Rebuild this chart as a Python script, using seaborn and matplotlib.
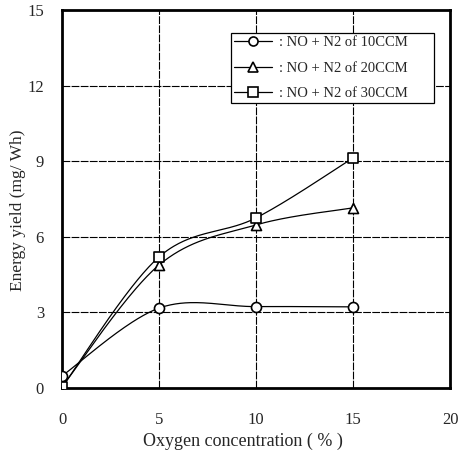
import numpy as np
import pandas as pd
import matplotlib
matplotlib.use("Agg")
import matplotlib.pyplot as plt
from matplotlib.lines import Line2D
import seaborn as sns

# Oxygen concentration (%) and energy yield (mg/Wh) for three NO + N2 flow rates
oxygen = [0, 5, 10, 15]
yield_10ccm = [0.48, 3.17, 3.23, 3.22]
yield_20ccm = [0.05, 4.88, 6.47, 7.15]
yield_30ccm = [0.03, 5.20, 6.75, 9.13]
series_labels = [": NO + N2 of 10CCM", ": NO + N2 of 20CCM", ": NO + N2 of 30CCM"]
series_markers = ["o", "^", "s"]
x_ticks = [0, 5, 10, 15, 20]
y_ticks = [0, 3, 6, 9, 12, 15]


def smooth_curve(xs, ys, n=60):
    """Bezier smoothing through every point (control points at 1/6 of neighbour span)."""
    p = np.column_stack([xs, ys]).astype(float)
    pts = [p[0]] + list(p) + [p[-1]]
    out = []
    t = np.linspace(0, 1, n)[:, None]
    for i in range(1, len(pts) - 2):
        p0, p1, p2, p3 = pts[i - 1], pts[i], pts[i + 1], pts[i + 2]
        c1 = p1 + (p2 - p0) / 6.0
        c2 = p2 - (p3 - p1) / 6.0
        seg = ((1 - t) ** 3) * p1 + 3 * ((1 - t) ** 2) * t * c1 + 3 * (1 - t) * t ** 2 * c2 + t ** 3 * p2
        out.append(seg if i == 1 else seg[1:])
    return np.vstack(out)


sns.set_theme(style="white")
plt.rcParams["font.family"] = ["Liberation Serif", "DejaVu Serif"]

fig = plt.figure(figsize=(4.59, 4.55), dpi=100)
ax = fig.add_axes([62 / 459, 1 - 388 / 455, (450 - 62) / 459, (388 - 10) / 455])

# grid
for gx in [5, 10, 15]:
    ax.axvline(gx, color="black", lw=0.8, ls=(0, (7, 1.2)), zorder=1)
for gy in [3, 6, 9, 12]:
    ax.axhline(gy, color="black", lw=0.8, ls=(0, (7, 1.2)), zorder=1)

all_series = [yield_10ccm, yield_20ccm, yield_30ccm]
for vals, mk in zip(all_series, series_markers):
    curve = smooth_curve(oxygen, vals)
    df_c = pd.DataFrame({"x": curve[:, 0], "y": curve[:, 1]})
    sns.lineplot(data=df_c, x="x", y="y", ax=ax, color="black", lw=0.9,
                 sort=False, estimator=None, zorder=3)
    df_p = pd.DataFrame({"x": oxygen, "y": vals})
    sns.scatterplot(data=df_p, x="x", y="y", ax=ax, marker=mk, s=52,
                    facecolor="white", edgecolor="black", linewidth=1.2, zorder=4)

ax.set_xlim(0, 20)
ax.set_ylim(0, 15)
ax.set_xticks(x_ticks)
ax.set_yticks(y_ticks)
ax.tick_params(axis="x", length=0, pad=17, labelsize=12)
ax.tick_params(axis="y", length=0, pad=13, labelsize=12)
for s in ax.spines.values():
    s.set_visible(True)
    s.set_color("black")
    s.set_linewidth(2)

ax.set_xlabel("Oxygen concentration ( % )", fontsize=13)
ax.set_ylabel("Energy yield (mg/ Wh)", fontsize=12.5)
ax.xaxis.set_label_coords((243 - 62) / 388, -(441 - 388) / 378, transform=ax.transAxes)
ax.yaxis.set_label_coords(-(62 - 18) / 388, (388 - 210) / 378, transform=ax.transAxes)
ax.xaxis.label.set_va("center")
ax.yaxis.label.set_va("center")

handles = [Line2D([0], [0], color="black", lw=0.9, marker=m, markersize=6.5,
                  markerfacecolor="white", markeredgecolor="black", markeredgewidth=1.2)
           for m in series_markers]
x0 = (231 - 62) / 388
y1 = 1 - (33 - 10) / 378
w = (434 - 231) / 388
h = (102 - 33) / 378
leg = ax.legend(handles, series_labels, loc="upper left",
                bbox_to_anchor=(x0, y1 - h, w, h), mode="expand",
                frameon=True, fancybox=False, framealpha=1, edgecolor="black",
                fontsize=10.5, handlelength=2.6, handletextpad=0.5,
                borderpad=0.2, labelspacing=0.85, borderaxespad=0)
leg.get_frame().set_linewidth(0.9)
leg.set_zorder(6)

fig.savefig("out.png", dpi=100)
